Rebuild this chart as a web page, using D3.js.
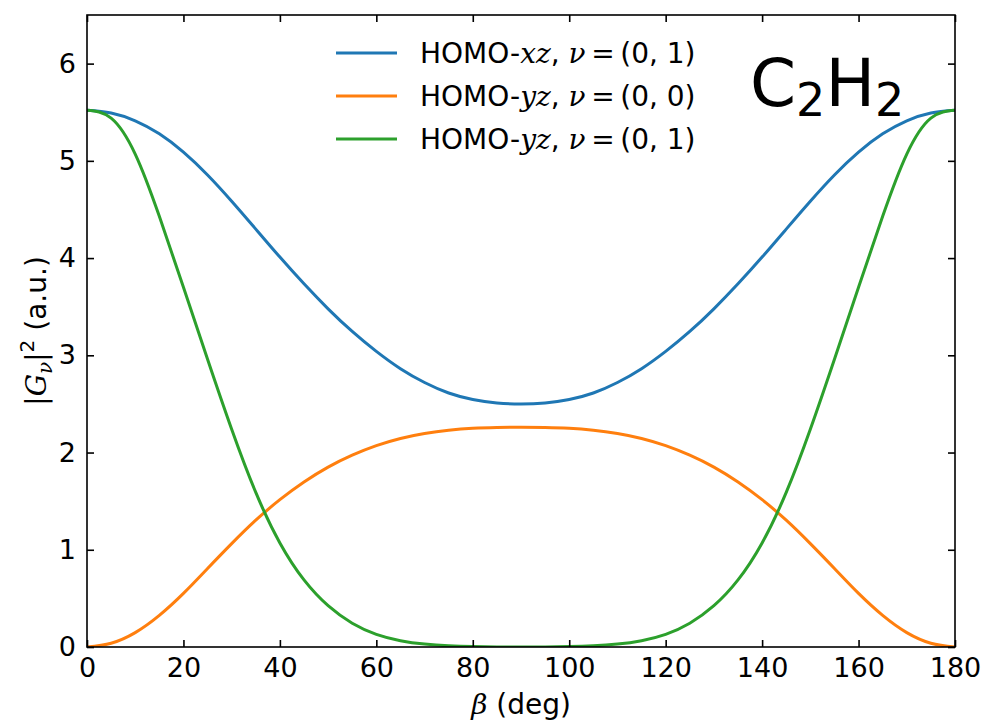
<!DOCTYPE html>
<html>
<head>
<meta charset="utf-8">
<script src="https://cdn.jsdelivr.net/npm/d3@7/dist/d3.min.js"></script>
<style>
  html, body { margin: 0; padding: 0; background: #fff; }
  svg { display: block; }
  text { font-family: "DejaVu Sans", sans-serif; fill: #000; }
</style>
</head>
<body>
<svg id="chart" width="987" height="723"></svg>
<script>
const beta = [0,5,10,15,20,25,30,35,40,45,50,55,60,65,70,75,80,85,90,
  95,100,105,110,115,120,125,130,135,140,145,150,155,160,165,170,175,180];
const homoXz01 = [5.52,5.492,5.412,5.278,5.09,4.855,4.585,4.298,4.01,3.735,3.478,3.245,3.04,2.862,2.72,2.612,2.545,2.51,2.50,
  2.51,2.545,2.612,2.72,2.862,3.04,3.245,3.478,3.735,4.01,4.298,4.585,4.855,5.09,5.278,5.412,5.492,5.52];
const homoYz00 = [0,0.039,0.148,0.325,0.551,0.807,1.063,1.304,1.515,1.697,1.85,1.973,2.071,2.145,2.196,2.23,2.25,2.258,2.26,
  2.258,2.25,2.23,2.196,2.145,2.071,1.973,1.85,1.697,1.515,1.304,1.063,0.807,0.551,0.325,0.148,0.039,0];
const homoYz01 = [5.52,5.44,5.07,4.43,3.70,2.96,2.24,1.59,1.07,0.69,0.425,0.245,0.13,0.065,0.03,0.012,0.004,0.001,0,
  0.001,0.004,0.012,0.03,0.065,0.13,0.245,0.425,0.69,1.07,1.59,2.24,2.96,3.70,4.43,5.07,5.44,5.52];
const xTicks = [0,20,40,60,80,100,120,140,160,180];
const yTicks = [0,1,2,3,4,5,6];

const series = [
  {name: "xz", nu: "(0, 1)", values: homoXz01, color: "#1f77b4"},
  {name: "yz", nu: "(0, 0)", values: homoYz00, color: "#ff7f0e"},
  {name: "yz", nu: "(0, 1)", values: homoYz01, color: "#2ca02c"}
];

const W = 987, H = 723;
const m = {left: 87, right: 32, top: 15, bottom: 76};
const svg = d3.select("#chart");
const x = d3.scaleLinear().domain([0,180]).range([m.left, W - m.right]);
const y = d3.scaleLinear().domain([0,6.5]).range([H - m.bottom, m.top]);

svg.append("clipPath").attr("id","clip").append("rect")
  .attr("x", m.left).attr("y", m.top).attr("width", x(180)-x(0)).attr("height", y(0)-y(6.5));

const line = d3.line().x((d,i)=>x(beta[i])).y(d=>y(d)).curve(d3.curveNatural);
const g = svg.append("g").attr("clip-path","url(#clip)");
series.forEach(s => {
  g.append("path").datum(s.values).attr("d", line)
    .attr("fill","none").attr("stroke", s.color).attr("stroke-width", 3);
});

const tickLen = 7, fs = 27;
function styleAxis(sel) {
  sel.select(".domain").remove();
  sel.selectAll(".tick line").attr("stroke","#000").attr("stroke-width",1.6);
  sel.selectAll(".tick text").style("font-size", fs+"px").style("font-family","DejaVu Sans");
}
svg.append("g").attr("transform",`translate(0,${y(0)})`)
  .call(d3.axisBottom(x).tickValues(xTicks).tickSizeInner(-tickLen).tickSizeOuter(0).tickPadding(11).tickFormat(d3.format("d")))
  .call(styleAxis);
svg.append("g").attr("transform",`translate(0,${y(6.5)})`)
  .call(d3.axisTop(x).tickValues(xTicks).tickSizeInner(-tickLen).tickSizeOuter(0).tickFormat(""))
  .call(styleAxis);
svg.append("g").attr("transform",`translate(${x(0)},0)`)
  .call(d3.axisLeft(y).tickValues(yTicks).tickSizeInner(-tickLen).tickSizeOuter(0).tickPadding(11).tickFormat(d3.format("d")))
  .call(styleAxis);
svg.append("g").attr("transform",`translate(${x(180)},0)`)
  .call(d3.axisRight(y).tickValues(yTicks).tickSizeInner(-tickLen).tickSizeOuter(0).tickFormat(""))
  .call(styleAxis);

svg.append("rect").attr("x", x(0)).attr("y", y(6.5)).attr("width", x(180)-x(0)).attr("height", y(0)-y(6.5))
  .attr("fill","none").attr("stroke","#000").attr("stroke-width",1.6);

// Legend
const leg = svg.append("g");
series.forEach((s,i) => {
  const yy = 53 + i*43;
  leg.append("line").attr("x1",336).attr("x2",397).attr("y1",yy).attr("y2",yy)
    .attr("stroke", s.color).attr("stroke-width",3);
  const t = leg.append("text").attr("x",420).attr("y",yy+10).style("font-size","28px");
  t.append("tspan").text("HOMO-");
  t.append("tspan").style("font-family","DejaVu Serif").style("font-style","italic").text(s.name);
  t.append("tspan").text(", ");
  t.append("tspan").style("font-family","DejaVu Serif").style("font-style","italic").text("ν");
  t.append("tspan").text("\u2009=\u2009" + s.nu);
});

// Molecule label
const mol = svg.append("text").attr("x", 750).attr("y", 106).style("font-size","66px");
mol.append("tspan").text("C");
mol.append("tspan").attr("dy", 10).style("font-size","46px").text("2");
mol.append("tspan").attr("dy", -10).text("H");
mol.append("tspan").attr("dy", 10).style("font-size","46px").text("2");

// Axis labels
const xl = svg.append("text").attr("x", (x(0)+x(180))/2).attr("y", 714).attr("text-anchor","middle").style("font-size","28px");
xl.append("tspan").style("font-family","DejaVu Serif").style("font-style","italic").text("β");
xl.append("tspan").text(" (deg)");

const yl = svg.append("text").attr("transform",`translate(46,${(y(0)+y(6.5))/2}) rotate(-90)`)
  .attr("text-anchor","middle").style("font-size","28px");
yl.append("tspan").text("|");
yl.append("tspan").style("font-family","DejaVu Serif").style("font-style","italic").text("G");
yl.append("tspan").attr("dy",6).style("font-family","DejaVu Serif").style("font-style","italic").style("font-size","20px").text("ν");
yl.append("tspan").attr("dy",-6).text("|");
yl.append("tspan").attr("dy",-12).style("font-size","20px").text("2");
yl.append("tspan").attr("dy",12).text(" (a.u.)");
</script>
</body>
</html>
